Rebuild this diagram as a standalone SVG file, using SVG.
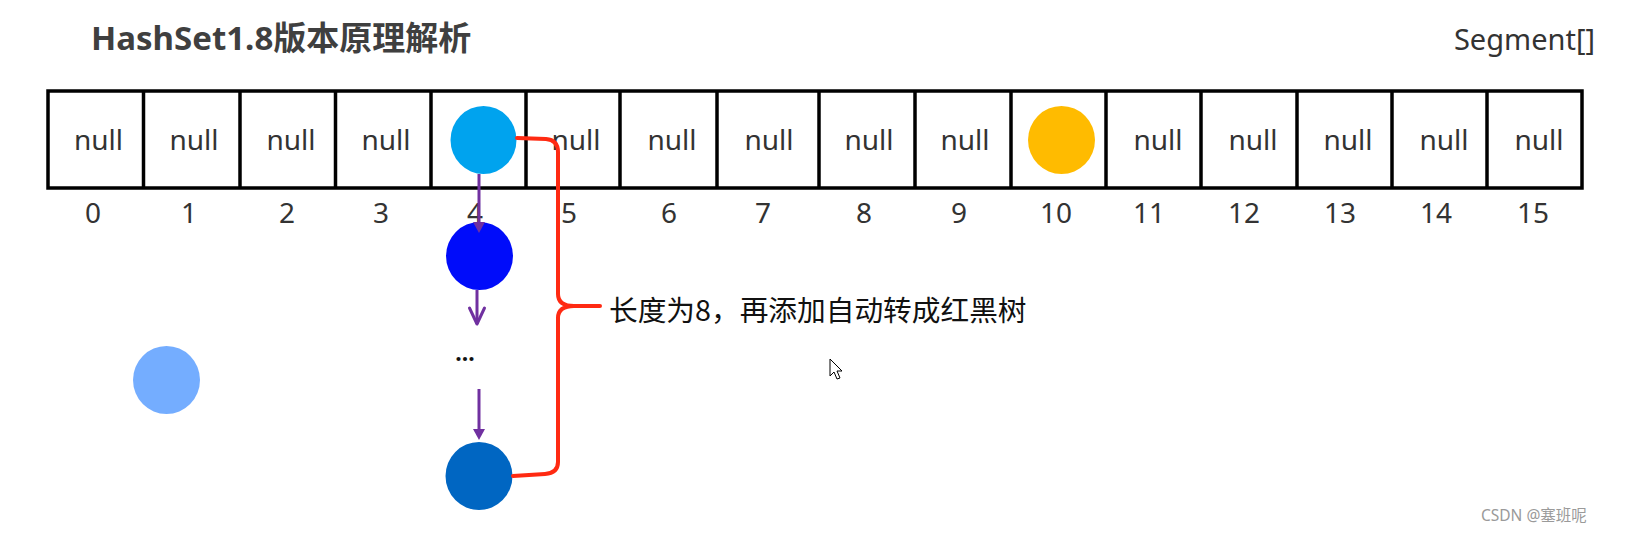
<svg xmlns="http://www.w3.org/2000/svg" width="1626" height="533" viewBox="0 0 1626 533">
  <style>
    .cell { fill: #ffffff; stroke: #000000; stroke-width: 3.5; }
    .div { stroke: #000000; stroke-width: 3.5; }
    .null { font-family: "Noto Sans", "Open Sans", sans-serif; font-size: 28px; fill: #333333; text-anchor: middle; }
    .idx { font-family: "Noto Sans", "Open Sans", sans-serif; font-size: 28px; fill: #333333; text-anchor: middle; }
    .purple { stroke: #7030A0; stroke-width: 3; fill: none; }
    .red { stroke: #FF2A12; stroke-width: 4; fill: none; stroke-linecap: round; stroke-linejoin: round; }
  </style>
  <defs>
    <marker id="headFill" markerUnits="userSpaceOnUse" markerWidth="14" markerHeight="14" viewBox="0 0 14 14" refX="8" refY="7" orient="auto" overflow="visible">
      <path d="M1,1 L12,7 L1,13 Z" fill="#7030A0"/>
    </marker>
    <marker id="headOpen" markerUnits="userSpaceOnUse" markerWidth="20" markerHeight="20" viewBox="0 0 20 20" refX="18" refY="10" orient="auto" overflow="visible">
      <path d="M2,2.5 L18,10 L2,17.5" fill="none" stroke="#7030A0" stroke-width="3" stroke-linejoin="round" stroke-linecap="round"/>
    </marker>
  </defs>
  <rect width="1626" height="533" fill="#ffffff"/>

  <g id="title">
    <text x="91" y="50" font-family="'Noto Sans', 'Noto Sans CJK SC', sans-serif" font-size="33" font-weight="bold" fill="#3f3f3f">HashSet1.8版本原理解析</text>
  </g>
  <g id="segment-label">
    <text x="1595" y="50" font-family="'Noto Sans', 'Open Sans', sans-serif" font-size="29" fill="#333333" text-anchor="end">Segment[]</text>
  </g>

  <g id="array">
    <rect class="cell" x="48" y="91" width="1534" height="97"/>
    <line class="div" x1="143.5" y1="91" x2="143.5" y2="188"/>
    <line class="div" x1="240" y1="91" x2="240" y2="188"/>
    <line class="div" x1="335.5" y1="91" x2="335.5" y2="188"/>
    <line class="div" x1="431" y1="91" x2="431" y2="188"/>
    <line class="div" x1="526" y1="91" x2="526" y2="188"/>
    <line class="div" x1="620" y1="91" x2="620" y2="188"/>
    <line class="div" x1="717" y1="91" x2="717" y2="188"/>
    <line class="div" x1="819" y1="91" x2="819" y2="188"/>
    <line class="div" x1="915" y1="91" x2="915" y2="188"/>
    <line class="div" x1="1011" y1="91" x2="1011" y2="188"/>
    <line class="div" x1="1106" y1="91" x2="1106" y2="188"/>
    <line class="div" x1="1201" y1="91" x2="1201" y2="188"/>
    <line class="div" x1="1297" y1="91" x2="1297" y2="188"/>
    <line class="div" x1="1392" y1="91" x2="1392" y2="188"/>
    <line class="div" x1="1487" y1="91" x2="1487" y2="188"/>
    <text class="null" x="98.5" y="150">null</text>
    <text class="null" x="194" y="150">null</text>
    <text class="null" x="291" y="150">null</text>
    <text class="null" x="386" y="150">null</text>
    <text class="null" x="576" y="150">null</text>
    <text class="null" x="672" y="150">null</text>
    <text class="null" x="769" y="150">null</text>
    <text class="null" x="869" y="150">null</text>
    <text class="null" x="965" y="150">null</text>
    <text class="null" x="1158" y="150">null</text>
    <text class="null" x="1253" y="150">null</text>
    <text class="null" x="1348" y="150">null</text>
    <text class="null" x="1444" y="150">null</text>
    <text class="null" x="1539" y="150">null</text>
  </g>

  <g id="indices">
    <text class="idx" x="93" y="223">0</text>
    <text class="idx" x="189" y="223">1</text>
    <text class="idx" x="287" y="223">2</text>
    <text class="idx" x="381" y="223">3</text>
    <text class="idx" x="475" y="223">4</text>
    <text class="idx" x="569" y="223">5</text>
    <text class="idx" x="669" y="223">6</text>
    <text class="idx" x="763" y="223">7</text>
    <text class="idx" x="864" y="223">8</text>
    <text class="idx" x="959" y="223">9</text>
    <text class="idx" x="1056" y="223">10</text>
    <text class="idx" x="1149" y="223">11</text>
    <text class="idx" x="1244" y="223">12</text>
    <text class="idx" x="1340" y="223">13</text>
    <text class="idx" x="1436" y="223">14</text>
    <text class="idx" x="1533" y="223">15</text>
  </g>

  <g id="node-bucket4">
    <ellipse cx="483.5" cy="140" rx="33" ry="34" fill="#00A3EE"/>
  </g>
  <g id="node-bucket10">
    <ellipse cx="1061.5" cy="140" rx="33.5" ry="34" fill="#FFBB00"/>
  </g>
  <g id="node-chain2">
    <ellipse cx="479.5" cy="256" rx="33.5" ry="34" fill="#000CFA"/>
  </g>
  <g id="node-ellipsis">
    <text x="465" y="361" font-family="'Noto Sans', sans-serif" font-size="23" font-weight="bold" fill="#111111" text-anchor="middle">...</text>
  </g>
  <g id="node-chain8">
    <ellipse cx="479" cy="476" rx="33.5" ry="34" fill="#0066C2"/>
  </g>
  <g id="node-new">
    <ellipse cx="166.5" cy="380" rx="33.5" ry="34" fill="#74ADFF"/>
  </g>

  <g id="connectors">
    <line class="purple" x1="479" y1="174" x2="479" y2="229" marker-end="url(#headFill)"/>
    <line class="purple" x1="477" y1="290" x2="477" y2="324" marker-end="url(#headOpen)"/>
    <line class="purple" x1="479" y1="389" x2="479" y2="436" marker-end="url(#headFill)"/>
    <path class="red" d="M517,138 L546,139 Q558,140 558,152 L558,294 Q558,306 574,306 L600,306 M574,306 Q558,306 558,318 L558,462 Q558,473 545,474 L513,476"/>
  </g>

  <g id="brace-label">
    <text x="609" y="321" font-family="'Noto Sans CJK SC', 'Noto Sans', sans-serif" font-size="28.7" fill="#111111">长度为8，再添加自动转成红黑树</text>
  </g>

  <g id="cursor">
    <path d="M830,359 L830,376 L834,372 L837,379 L840,378 L837,371 L842,371 Z" fill="#ffffff" stroke="#000000" stroke-width="1"/>
  </g>

  <g id="watermark">
    <text x="1481" y="521" font-family="'Noto Sans', 'Noto Sans CJK SC', sans-serif" font-size="15.5" fill="#9a9a9a">CSDN @塞班呢</text>
  </g>
</svg>
